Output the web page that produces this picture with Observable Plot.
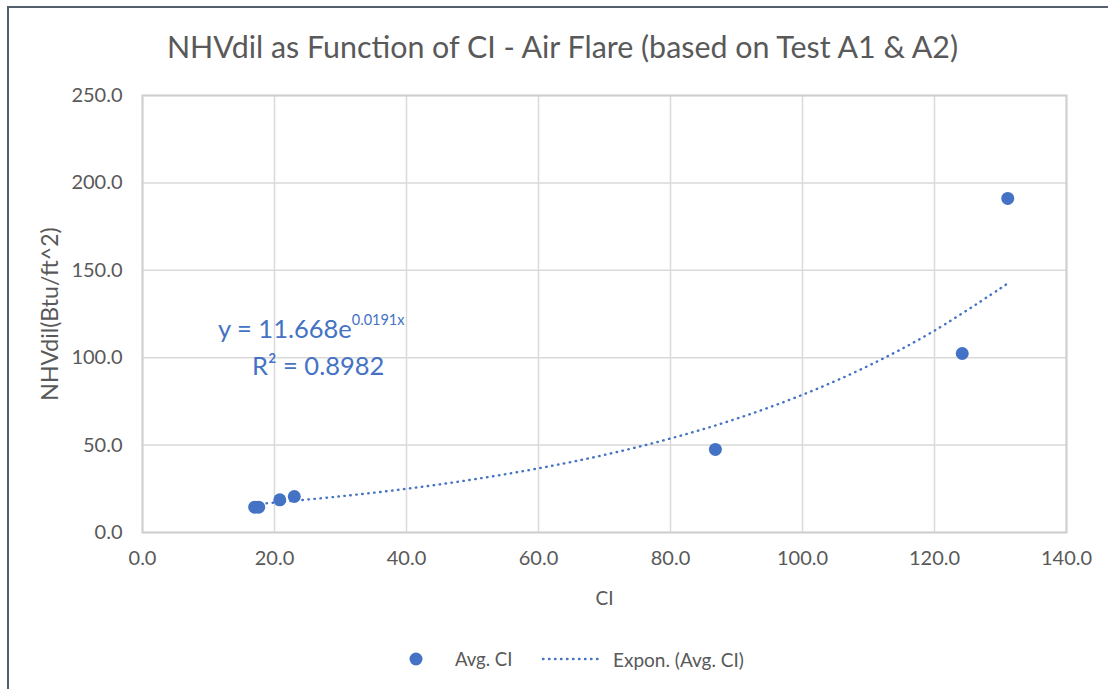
<!DOCTYPE html>
<html><head><meta charset="utf-8">
<script src="https://cdn.jsdelivr.net/npm/d3@7"></script>
<script src="https://cdn.jsdelivr.net/npm/@observablehq/plot@0.6"></script>
<style>
body{margin:0;background:#fff;font-family:Lato,"Open Sans",sans-serif;}
#wrap{position:relative;width:1108px;height:689px;overflow:hidden;background:#fff}
#frame{position:absolute;left:7px;top:6px;right:-10px;bottom:-10px;border-left:2px solid #56606c;border-top:2px solid #56606c;pointer-events:none}
#title{position:absolute;left:0;width:1125px;top:28px;text-align:center;font-size:30.4px;color:#595959;white-space:nowrap;line-height:1.2}
#chart{position:absolute;left:0;top:75px;}
.eq{position:absolute;color:#4472C4;font-size:25.5px;white-space:nowrap;line-height:1}
.eq sup{font-size:14.5px;position:relative;top:-4px}
.leg{position:absolute;font-size:18.5px;color:#595959;white-space:nowrap;line-height:1}
</style>
</head><body>
<div id="wrap">
  <div id="title">NHVdil as Function of CI - Air Flare (based on Test A1 &amp; A2)</div>
  <div id="chart"></div>
  <div class="eq" style="left:218px;top:316px">y = 11.668e<sup>0.0191x</sup></div>
  <div class="eq" style="left:252px;top:353px">R² = 0.8982</div>
  <svg class="leg" style="left:405px;top:648px" width="22" height="22"><circle cx="11" cy="11" r="6.5" fill="#4472C4"/></svg>
  <div class="leg" style="left:455px;top:650px">Avg. CI</div>
  <svg class="leg" style="left:540px;top:648px" width="66" height="22"><line x1="3" x2="63" y1="11" y2="11" stroke="#4472C4" stroke-width="2.4" stroke-dasharray="0.5 5.5" stroke-linecap="round"/></svg>
  <div class="leg" style="left:613px;top:650px;font-size:19px">Expon. (Avg. CI)</div>
  <div id="frame"></div>
</div>
<script>
// Scatter data (Avg. CI)
const ciValues  = [17.0, 17.6, 20.8, 23.0, 86.8, 124.2, 131.1];
const nhvValues = [14.5, 14.5, 18.7, 20.6, 47.5, 102.4, 191.1];
// Exponential trendline points
const trendCI  = [17.0, 20, 30, 40, 50, 60, 70, 80, 90, 100, 110, 120, 131.1];
const trendNHV = [16.1, 17.1, 20.7, 25.0, 30.3, 36.7, 44.4, 53.8, 65.1, 78.8, 95.4, 115.5, 142.5];
// Axis ticks
const xTicks = [0, 20, 40, 60, 80, 100, 120, 140];
const yTicks = [0, 50, 100, 150, 200, 250];

const pts = ciValues.map((x, i) => ({x, y: nhvValues[i]}));
const trend = trendCI.map((x, i) => ({x, y: trendNHV[i]}));
const fmt = d3.format(".1f");
const gray = "#595959";

const chart = Plot.plot({
  width: 1108, height: 540,
  marginLeft: 142, marginRight: 42, marginTop: 20, marginBottom: 83,
  style: {fontFamily: "Lato, 'Open Sans', sans-serif", fontSize: "20px", color: gray, background: "transparent"},
  x: {domain: [0, 140]},
  y: {domain: [0, 250]},
  marks: [
    Plot.gridX(xTicks, {stroke: "#d9d9d9", strokeOpacity: 1, strokeWidth: 1.5}),
    Plot.gridY(yTicks, {stroke: "#d9d9d9", strokeOpacity: 1, strokeWidth: 1.5}),
    Plot.frame({stroke: "#cfcfcf", strokeWidth: 2}),
    Plot.axisX(xTicks, {tickSize: 0, tickPadding: 18, tickFormat: fmt, fontSize: 20, fill: gray,
      label: null}),
    Plot.axisY(yTicks, {tickSize: 0, tickPadding: 20, tickFormat: fmt, fontSize: 20, fill: gray,
      label: null}),
    Plot.axisX({ticks: [], tickSize: 0, fontSize: 19, fill: gray,
      label: "CI", labelAnchor: "center", labelOffset: 72, labelArrow: "none"}),
    Plot.axisY({ticks: [], tickSize: 0, fontSize: 23, fill: gray,
      label: "NHVdil(Btu/ft^2)", labelAnchor: "center", labelOffset: 101, labelArrow: "none"}),
    Plot.line(trend, {x: "x", y: "y", curve: "catmull-rom", stroke: "#4472C4", strokeWidth: 2.4,
      strokeDasharray: "0.5 5.5", strokeLinecap: "round"}),
    Plot.dot(pts, {x: "x", y: "y", r: 6.5, fill: "#4472C4"})
  ]
});
document.getElementById("chart").appendChild(chart);
</script>
</body></html>
